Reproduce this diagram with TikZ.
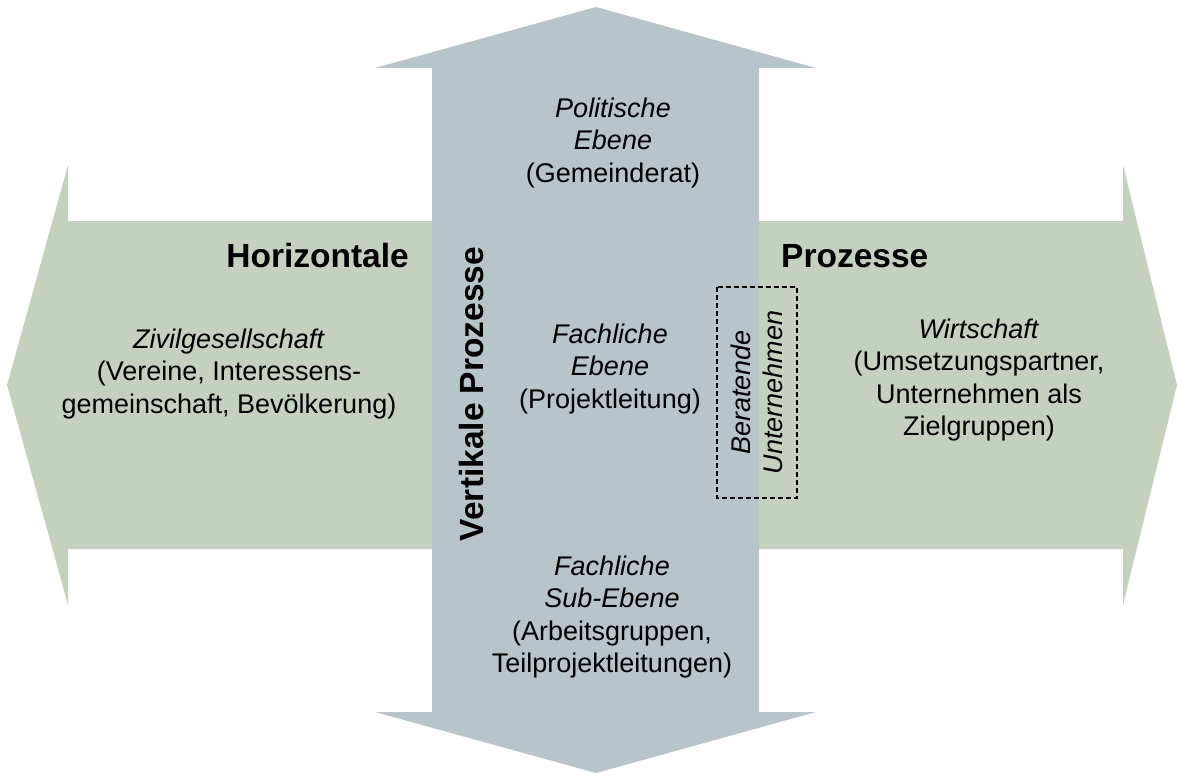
\documentclass[tikz,border=0pt]{standalone}
\usepackage{fontspec}
\setmainfont{Liberation Sans}
\usepackage{tikz}
\usetikzlibrary{positioning}
\definecolor{horiz}{HTML}{C5D1BF}
\definecolor{vert}{HTML}{B7C4CA}

\begin{document}
\begin{tikzpicture}[x=1pt, y=-1pt]
	\tikzstyle{level} = [ align=center, inner sep=0pt, font={\fontsize{27}{32.5}\selectfont} ];
	\tikzstyle{heading} = [ inner sep=0pt, font={\fontsize{33.5}{40}\selectfont\bfseries} ];
	\tikzstyle{advice} = [ draw, dashed, dash pattern=on 5pt off 3pt, line width=1.1pt, rotate=90, align=center, inner sep=0pt,
		minimum width=211pt, minimum height=80pt, font={\fontsize{27}{32}\selectfont\itshape} ];

	\useasboundingbox (0,0) rectangle (1177,773);

	% horizontal double arrow
	\fill[horiz] (7,385) -- (68,165) -- (68,221) -- (1123,221) -- (1123,165) -- (1177,385)
		-- (1123,605) -- (1123,549) -- (68,549) -- (68,605) -- cycle;

	% vertical double arrow
	\fill[vert] (596,7) -- (816,68) -- (759,68) -- (759,712) -- (816,712) -- (596,773)
		-- (375,712) -- (432,712) -- (432,68) -- (375,68) -- cycle;

	\node[heading, anchor=east] (horizontale) at (409,256) {Horizontale};
	\node[heading, anchor=west] (prozesse) at (781,256) {Prozesse};
	\node[heading, rotate=90] (vertikale) at (472,394) {Vertikale Prozesse};

	\node[level] (politisch) at (613,143) {\textit{Politische}\\\textit{Ebene}\\(Gemeinderat)};
	\node[level] (fachlich) at (610,369) {\textit{Fachliche}\\\textit{Ebene}\\(Projektleitung)};
	\node[level] (sub) at (612,617) {\textit{Fachliche}\\\textit{Sub-Ebene}\\(Arbeitsgruppen,\\Teilprojektleitungen)};

	\node[level] (zivil) at (229,374) {\textit{Zivilgesellschaft}\\(Vereine, Interessens-\\gemeinschaft, Bevölkerung)};
	\node[level] (wirtschaft) at (979,380) {\textit{Wirtschaft}\\(Umsetzungspartner,\\Unternehmen als\\Zielgruppen)};

	\node[advice] (beratend) at (757,392.5) {Beratende\\Unternehmen};
\end{tikzpicture}
\end{document}
